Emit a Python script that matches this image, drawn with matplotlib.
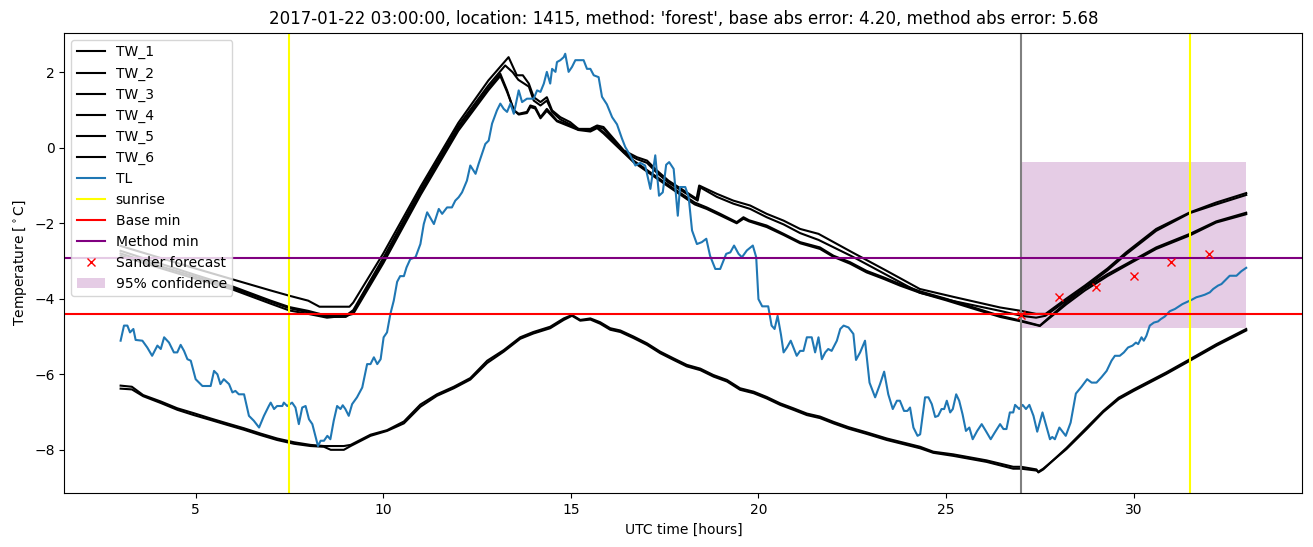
import matplotlib
matplotlib.use('Agg')
import matplotlib.pyplot as plt

# water temperature model runs (hours since 2017-01-22 00:00 UTC)
tw1_hours = [3.0, 4.0, 5.0, 6.0, 7.0, 7.5, 8.0, 8.3, 9.1, 9.2, 10.0, 11.0, 12.0, 12.8, 13.34,
             13.56, 13.72, 13.88, 14.01, 14.19, 14.36, 14.50, 14.72, 14.98, 15.2, 15.52, 15.7, 15.87,
             16.41, 16.76, 17.03, 17.29, 17.6, 18.35, 18.42, 18.89, 19.33, 19.78, 20.22, 20.67, 21.11,
             21.6, 22.5, 23.4, 24.3, 25.2, 26.44, 27.0, 27.4, 27.65, 28.2, 28.7, 29.3, 29.8, 30.6,
             31.5, 32.2, 33.0]
tw1 = [-2.60, -2.90, -3.20, -3.49, -3.78, -3.92, -4.05, -4.21, -4.21, -4.10, -2.80, -1.02, 0.66,
       1.78, 2.40, 1.92, 1.92, 1.70, 1.34, 1.21, 1.34, 0.99, 0.81, 0.68, 0.50, 0.50, 0.59, 0.55,
       -0.07, -0.25, -0.34, -0.60, -0.87, -1.35, -1.00, -1.22, -1.40, -1.53, -1.75, -1.93, -2.15,
       -2.28, -2.77, -3.25, -3.74, -3.95, -4.23, -4.32, -4.40, -4.40, -4.00, -3.65, -3.20, -2.77,
       -2.15, -1.71, -1.45, -1.20]

tw2_hours = [3.0, 4.0, 5.0, 6.0, 7.0, 7.5, 8.0, 8.5, 9.0, 9.2, 10.0, 11.0, 12.0, 12.8, 13.25,
             13.45, 13.6, 13.88, 14.01, 14.19, 14.36, 14.50, 14.72, 14.98, 15.2, 15.52, 15.7, 15.87,
             16.41, 16.76, 17.03, 17.29, 17.6, 18.38, 18.45, 18.89, 19.33, 19.78, 20.22, 20.67, 21.11,
             21.6, 22.5, 23.4, 24.3, 25.2, 26.44, 27.0, 27.4, 27.65, 28.2, 28.7, 29.3, 29.8, 30.6,
             31.5, 32.2, 33.0]
tw2 = [-2.73, -3.05, -3.37, -3.68, -4.05, -4.22, -4.32, -4.45, -4.45, -4.30, -2.92, -1.10, 0.58,
       1.65, 2.18, 2.00, 1.80, 1.62, 1.25, 1.12, 1.25, 0.95, 0.75, 0.62, 0.48, 0.48, 0.57, 0.50,
       -0.12, -0.30, -0.40, -0.66, -0.92, -1.40, -1.05, -1.30, -1.48, -1.62, -1.84, -2.03, -2.26,
       -2.44, -2.88, -3.36, -3.84, -4.06, -4.32, -4.45, -4.50, -4.45, -4.05, -3.70, -3.25, -2.82,
       -2.20, -1.73, -1.50, -1.25]

tw34_hours = [3.0, 4.0, 5.0, 6.0, 7.0, 7.5, 8.0, 8.5, 9.0, 9.2, 10.0, 11.0, 12.0, 12.8, 13.12,
              13.30, 13.48, 13.61, 13.83, 13.92, 14.05, 14.19, 14.36, 14.63, 14.98, 15.2, 15.52, 15.7,
              15.87, 16.67, 17.56, 18.30, 18.62, 18.98, 19.42, 19.60, 19.75, 20.22, 20.67, 21.11,
              21.64, 22.0, 22.44, 22.88, 23.33, 23.77, 24.3, 25.0, 26.44, 27.0, 27.5, 28.2, 28.7,
              29.3, 29.8, 30.6, 31.5, 32.2, 33.0]
tw3 = [-2.80, -3.12, -3.42, -3.72, -4.08, -4.25, -4.36, -4.48, -4.48, -4.35, -3.00, -1.18, 0.52,
       1.58, 1.96, 1.52, 0.99, 0.90, 0.95, 1.12, 1.08, 0.81, 1.03, 0.72, 0.59, 0.50, 0.45, 0.55,
       0.41, -0.34, -0.96, -1.45, -1.58, -1.75, -1.97, -1.84, -1.92, -2.06, -2.28, -2.50, -2.64,
       -2.86, -3.03, -3.26, -3.43, -3.61, -3.80, -4.00, -4.45, -4.58, -4.71, -4.10, -3.72, -3.35,
       -3.08, -2.64, -2.28, -1.95, -1.72]
tw4 = [-2.86, -3.17, -3.47, -3.76, -4.13, -4.31, -4.40, -4.50, -4.45, -4.40, -3.06, -1.24, 0.45,
       1.52, 1.90, 1.48, 1.00, 0.88, 0.92, 1.08, 1.04, 0.78, 0.98, 0.70, 0.56, 0.47, 0.43, 0.52,
       0.38, -0.38, -1.00, -1.50, -1.62, -1.79, -2.00, -1.88, -1.95, -2.10, -2.31, -2.53, -2.68,
       -2.89, -3.07, -3.30, -3.47, -3.65, -3.84, -4.04, -4.48, -4.60, -4.72, -4.15, -3.78, -3.40,
       -3.12, -2.68, -2.32, -1.98, -1.76]

tw56_hours = [3.0, 3.3, 3.6, 4.07, 4.51, 4.95, 5.4, 5.84, 6.29, 6.73, 7.17, 7.62, 8.06, 8.42, 8.6,
              8.95, 9.13, 9.66, 10.1, 10.55, 10.99, 11.43, 11.88, 12.32, 12.77, 13.21, 13.65, 14.0,
              14.45, 14.81, 15.03, 15.25, 15.52, 15.78, 16.05, 16.32, 16.67, 17.03, 17.38, 17.74,
              18.09, 18.45, 18.8, 19.16, 19.51, 19.87, 20.22, 20.58, 20.93, 21.29, 21.64, 22.0, 22.4,
              22.89, 23.42, 24.31, 24.66, 25.19, 26.08, 26.79, 27.0, 27.41, 27.46, 27.59, 28.21,
              28.75, 29.19, 29.6, 30.0, 30.87, 31.5, 32.21, 33.0]
tw5 = [-6.30, -6.33, -6.55, -6.72, -6.90, -7.03, -7.17, -7.30, -7.43, -7.57, -7.70, -7.80, -7.87,
       -7.90, -7.90, -7.90, -7.87, -7.60, -7.48, -7.25, -6.80, -6.53, -6.33, -6.10, -5.64, -5.36,
       -5.02, -4.88, -4.74, -4.52, -4.43, -4.56, -4.52, -4.62, -4.78, -4.84, -5.00, -5.18, -5.40,
       -5.58, -5.75, -5.85, -6.02, -6.15, -6.37, -6.46, -6.60, -6.77, -6.90, -7.04, -7.12, -7.26,
       -7.40, -7.54, -7.70, -7.92, -8.05, -8.12, -8.28, -8.45, -8.45, -8.52, -8.60, -8.52, -7.95,
       -7.41, -6.97, -6.62, -6.40, -5.95, -5.60, -5.20, -4.80]
tw6 = [-6.38, -6.40, -6.58, -6.76, -6.94, -7.08, -7.21, -7.34, -7.47, -7.61, -7.74, -7.84, -7.90,
       -7.92, -8.00, -8.00, -7.90, -7.63, -7.50, -7.30, -6.86, -6.57, -6.37, -6.14, -5.70, -5.40,
       -5.06, -4.92, -4.78, -4.56, -4.45, -4.58, -4.55, -4.66, -4.82, -4.88, -5.04, -5.22, -5.44,
       -5.62, -5.79, -5.89, -6.06, -6.19, -6.41, -6.50, -6.64, -6.81, -6.94, -7.08, -7.16, -7.30,
       -7.44, -7.58, -7.74, -7.96, -8.08, -8.16, -8.32, -8.50, -8.50, -8.55, -8.58, -8.50, -7.98,
       -7.45, -7.00, -6.66, -6.44, -5.99, -5.64, -5.24, -4.84]

# air temperature TL
tl_hours = [3.00, 3.09, 3.18, 3.25, 3.34, 3.40, 3.58, 3.71, 3.84, 3.98, 4.07, 4.16, 4.29, 4.42, 4.51,
            4.60, 4.69, 4.78, 4.87, 5.00, 5.18, 5.40, 5.49, 5.58, 5.66, 5.75, 5.89, 5.98, 6.06, 6.15,
            6.29, 6.42, 6.55, 6.69, 6.82, 6.95, 7.00, 7.09, 7.17, 7.31, 7.35, 7.44, 7.57, 7.66, 7.75,
            7.84, 7.93, 8.02, 8.11, 8.26, 8.33, 8.42, 8.51, 8.59, 8.68, 8.77, 8.86, 8.92, 8.99, 9.08,
            9.17, 9.30, 9.44, 9.57, 9.66, 9.75, 9.84, 9.93, 10.01, 10.10, 10.19, 10.28, 10.37, 10.45,
            10.55, 10.62, 10.72, 10.86, 10.99, 11.08, 11.17, 11.35, 11.48, 11.57, 11.70, 11.83, 11.92,
            12.01, 12.10, 12.23, 12.32, 12.46, 12.54, 12.72, 12.81, 12.90, 13.03, 13.12, 13.21, 13.30,
            13.39, 13.48, 13.61, 13.70, 13.83, 14.01, 14.10, 14.19, 14.28, 14.36, 14.45, 14.50, 14.59,
            14.63, 14.72, 14.81, 14.85, 14.94, 15.03, 15.12, 15.34, 15.43, 15.52, 15.61, 15.74, 15.83,
            15.96, 16.10, 16.23, 16.36, 16.45, 16.58, 16.72, 16.85, 16.98, 17.12, 17.25, 17.35, 17.45,
            17.54, 17.62, 17.74, 17.85, 17.91, 18.05, 18.14, 18.23, 18.36, 18.49, 18.61, 18.71, 18.85,
            18.98, 19.14, 19.25, 19.35, 19.47, 19.56, 19.69, 19.85, 19.94, 20.00, 20.10, 20.26, 20.35,
            20.43, 20.51, 20.60, 20.67, 20.76, 20.86, 21.02, 21.11, 21.20, 21.29, 21.42, 21.51, 21.60,
            21.69, 21.78, 21.86, 21.95, 22.09, 22.18, 22.27, 22.40, 22.53, 22.60, 22.71, 22.84, 22.96,
            23.11, 23.24, 23.35, 23.46, 23.58, 23.69, 23.77, 23.88, 23.97, 24.04, 24.13, 24.24, 24.31,
            24.44, 24.53, 24.62, 24.71, 24.79, 24.88, 24.95, 25.02, 25.11, 25.18, 25.27, 25.35, 25.44,
            25.53, 25.62, 25.71, 25.83, 25.95, 26.06, 26.19, 26.30, 26.44, 26.53, 26.61, 26.70, 26.79,
            26.84, 26.95, 27.04, 27.13, 27.22, 27.33, 27.43, 27.57, 27.77, 27.83, 27.90, 28.02, 28.19,
            28.32, 28.46, 28.61, 28.76, 28.88, 29.01, 29.14, 29.28, 29.41, 29.50, 29.63, 29.74, 29.85,
            29.97, 30.06, 30.12, 30.21, 30.27, 30.34, 30.43, 30.54, 30.65, 30.72, 30.83, 30.96, 31.10,
            31.19, 31.30, 31.41, 31.54, 31.67, 31.81, 31.90, 32.03, 32.12, 32.25, 32.34, 32.47, 32.56,
            32.74, 32.87, 33.00]
tl = [-5.11, -4.71, -4.71, -4.89, -4.80, -5.09, -5.11, -5.29, -5.51, -5.24, -5.33, -5.02, -5.16, -5.42,
      -5.42, -5.22, -5.38, -5.60, -5.64, -6.13, -6.31, -6.31, -5.91, -6.00, -6.26, -6.13, -6.26, -6.48,
      -6.44, -6.53, -6.53, -7.10, -7.23, -7.41, -7.10, -6.84, -6.75, -6.92, -6.84, -6.84, -6.75, -6.84,
      -6.75, -6.88, -7.32, -6.88, -6.84, -7.19, -7.32, -7.90, -7.76, -7.76, -7.63, -7.72, -7.23, -6.84,
      -6.92, -6.82, -6.92, -7.10, -6.79, -6.61, -6.35, -5.73, -5.73, -5.55, -5.73, -5.60, -5.02, -4.89,
      -4.40, -4.05, -3.55, -3.40, -3.40, -3.17, -2.95, -2.90, -2.55, -2.02, -1.71, -2.02, -1.62, -1.75,
      -1.58, -1.58, -1.40, -1.31, -1.18, -0.87, -0.47, -0.69, -0.43, 0.10, 0.19, 0.64, 0.99, 1.17, 1.03,
      0.95, 1.17, 0.90, 1.52, 1.21, 1.30, 1.30, 1.52, 1.48, 1.70, 2.01, 1.70, 2.09, 2.01, 2.27, 2.32,
      2.40, 2.49, 2.01, 2.14, 2.32, 2.32, 2.09, 2.09, 1.92, 1.87, 1.35, 1.15, 0.81, 0.62, 0.25, 0.02,
      -0.20, -0.47, -0.40, -0.47, -1.09, -0.20, -1.27, -1.18, -0.45, -0.38, -0.56, -1.80, -1.04, -1.04,
      -1.31, -2.19, -2.55, -2.50, -2.41, -2.86, -3.21, -3.21, -2.81, -2.77, -2.59, -2.81, -2.90, -2.72,
      -2.59, -2.90, -4.01, -4.20, -4.20, -4.71, -4.80, -4.45, -4.95, -5.42, -5.29, -5.11, -5.51, -5.38,
      -5.38, -5.02, -5.02, -5.42, -5.02, -5.60, -5.42, -5.33, -5.38, -5.11, -4.80, -4.71, -4.76, -4.93,
      -5.62, -5.42, -5.11, -6.22, -6.61, -6.26, -5.93, -6.53, -6.92, -6.70, -6.70, -6.97, -6.97, -6.88,
      -7.41, -7.63, -7.59, -6.61, -6.61, -6.79, -7.13, -7.10, -6.92, -6.92, -6.70, -7.01, -6.92, -6.53,
      -6.70, -7.06, -7.50, -7.41, -7.72, -7.50, -7.32, -7.50, -7.72, -7.54, -7.32, -7.45, -7.45, -7.01,
      -7.01, -6.81, -6.92, -6.81, -6.92, -6.81, -7.10, -7.52, -7.01, -7.72, -7.66, -7.72, -7.41, -7.63,
      -7.28, -6.51, -6.33, -6.13, -6.22, -6.22, -6.08, -5.91, -5.64, -5.51, -5.51, -5.42, -5.29, -5.24,
      -5.16, -5.20, -5.02, -5.11, -4.98, -4.71, -4.63, -4.60, -4.54, -4.47, -4.33, -4.27, -4.21, -4.14,
      -4.09, -4.03, -3.96, -3.92, -3.89, -3.83, -3.74, -3.65, -3.61, -3.48, -3.39, -3.39, -3.27, -3.18]

sunrise_hours = [7.5, 31.5]
forecast_start = 27.0
base_min = -4.40
method_min = -2.92
sander_hours = [27, 28, 29, 30, 31, 32]
sander_temp = [-4.42, -3.95, -3.69, -3.40, -3.02, -2.81]
conf_hours = [27, 33]
conf_low = -4.77
conf_high = -0.39

fig = plt.figure(figsize=(13.13, 5.47), dpi=100)
ax = fig.add_subplot(111)
fig.subplots_adjust(left=0.049, right=0.992, top=0.94, bottom=0.098)

ax.plot(tw1_hours, tw1, color='black', label='TW_1')
ax.plot(tw2_hours, tw2, color='black', label='TW_2')
ax.plot(tw34_hours, tw3, color='black', label='TW_3')
ax.plot(tw34_hours, tw4, color='black', label='TW_4')
ax.plot(tw56_hours, tw5, color='black', label='TW_5')
ax.plot(tw56_hours, tw6, color='black', label='TW_6')
ax.plot(tl_hours, tl, color='tab:blue', label='TL')

for i, h in enumerate(sunrise_hours):
    ax.axvline(h, color='yellow', label='sunrise' if i == 0 else None)
ax.axvline(forecast_start, color='gray')
ax.axhline(base_min, color='red', label='Base min')
ax.axhline(method_min, color='purple', label='Method min')
ax.plot(sander_hours, sander_temp, 'x', color='red', linestyle='none', label='Sander forecast')
ax.fill_between(conf_hours, conf_low, conf_high, color='purple', alpha=0.2, linewidth=0,
                label='95% confidence')

ax.set_xlabel('UTC time [hours]')
ax.set_ylabel(r'Temperature [$^\circ$C]')
ax.set_title("2017-01-22 03:00:00, location: 1415, method: 'forest', base abs error: 4.20, "
             "method abs error: 5.68")
ax.legend(loc='upper left')

fig.savefig('out.png', dpi=100)
